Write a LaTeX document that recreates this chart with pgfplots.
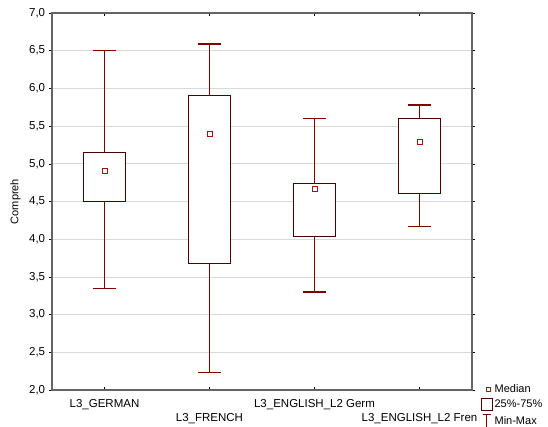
\documentclass[border=0pt]{standalone}
\usepackage{pgfplots}
\pgfplotsset{compat=1.18}
\usepgfplotslibrary{statistics}
\usepackage{fontspec}
\setmainfont{Liberation Sans}
\definecolor{whisk}{RGB}{128,0,0}
\definecolor{boxc}{RGB}{70,0,0}
\definecolor{medc}{RGB}{160,20,20}
\definecolor{axc}{RGB}{100,100,100}
\newcommand{\low}[1]{\raisebox{-14.5pt}{#1}}
\begin{document}
\fontsize{11}{13}\selectfont
\begin{tikzpicture}
\begin{axis}[
  name=ax,
  scale only axis,
  width=420pt, height=377pt,
  xmin=0.5, xmax=4.5,
  ymin=2, ymax=7,
  ytick={2,2.5,...,7},
  xtick={1,2,3,4},
  xticklabels={{L3\_GERMAN},{\low{L3\_FRENCH}},{L3\_ENGLISH\_L2 Germ},{\low{L3\_ENGLISH\_L2 Fren}}},
  xticklabel style={anchor=base, font=\fontsize{11.5}{13}\selectfont, yshift=-17pt},
  yticklabel style={font=\fontsize{11.5}{13}\selectfont},
  /pgf/number format/.cd, use comma, fixed, fixed zerofill, precision=1, assume math mode=true,
  /pgfplots/.cd,
  ymajorgrids,
  grid style={color=black!15, line width=0.8pt},
  tick style={black, line width=0.6pt},
  major tick length=3pt,
  xtick align=inside,
  ytick align=outside,
  axis line style={axc, line width=1.5pt},
  ylabel={Compreh},
  ylabel style={font=\fontsize{11}{13}\selectfont, yshift=1pt},
  boxplot/draw direction=y,
  boxplot/box extend=0.4,
  boxplot/whisker extend=0.21,
  boxplot/every box/.style={draw=boxc, line width=1.2pt, fill=white},
  boxplot/every whisker/.style={draw=whisk, line width=1.2pt},
  boxplot/draw/median/.code={%
    \node[draw=medc, fill=white, line width=1pt, minimum size=5pt, inner sep=0pt]
      at (boxplot box cs:\pgfplotsboxplotvalue{median},0.5) {};},
  legend style={at={(axis description cs:1.02,0.018)}, anchor=north west, draw=none, fill=none,
    font=\fontsize{11}{12}\selectfont, row sep=3pt, column sep=1pt, inner sep=0pt,
    nodes={inner sep=1pt}},
  legend cell align=left,
]
\addplot+[forget plot, boxplot prepared={draw position=1, lower whisker=3.35, lower quartile=4.50, median=4.90, upper quartile=5.15, upper whisker=6.50}] coordinates {};
\addplot+[forget plot, boxplot prepared={draw position=2, lower whisker=2.23, lower quartile=3.68, median=5.39, upper quartile=5.91, upper whisker=6.59}] coordinates {};
\addplot+[forget plot, boxplot prepared={draw position=3, lower whisker=3.30, lower quartile=4.04, median=4.66, upper quartile=4.74, upper whisker=5.60}] coordinates {};
\addplot+[forget plot, boxplot prepared={draw position=4, lower whisker=4.17, lower quartile=4.61, median=5.29, upper quartile=5.60, upper whisker=5.78}] coordinates {};
\addlegendimage{legend image code/.code={\path[draw=none,fill=none] (0,-6pt) rectangle (12pt,6pt); \node[draw=medc, fill=white, line width=1pt, minimum size=4.5pt, inner sep=0pt] at (5pt,0) {};}}
\addlegendentry{Median}
\addlegendimage{legend image code/.code={\draw[boxc, line width=1pt, fill=white] (0.5pt,-6pt) rectangle (11.5pt,6pt);}}
\addlegendentry{25\%-75\%}
\addlegendimage{legend image code/.code={\path[draw=none,fill=none] (0,-6pt) rectangle (12pt,6pt); \draw[whisk, line width=1pt] (6pt,-6.5pt) -- (6pt,6.5pt) (2pt,6.5pt) -- (10pt,6.5pt) (2pt,-6.5pt) -- (10pt,-6.5pt);}}
\addlegendentry{Min-Max}
\end{axis}
\pgfresetboundingbox
\path (ax.south west) ++(-52pt,-36pt) rectangle ++(548pt,426pt);
\end{tikzpicture}
\end{document}
